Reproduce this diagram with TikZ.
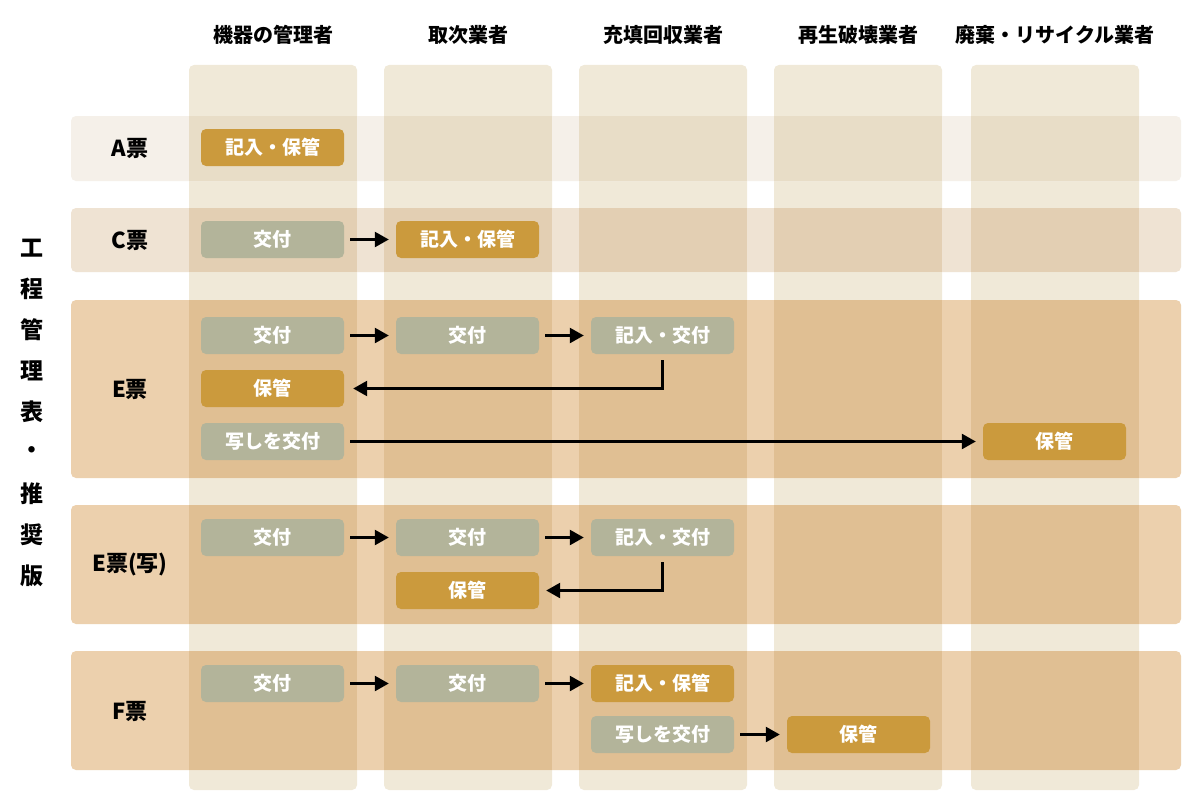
\documentclass[tikz,border=0pt]{standalone}
\usepackage{fontspec}
\setmainfont{Noto Sans CJK JP}
\usetikzlibrary{arrows.meta}
\definecolor{colbg}{HTML}{F0E9D8}
\definecolor{rowA}{HTML}{F5F0E9}
\definecolor{ovA}{HTML}{E8DDC7}
\definecolor{rowC}{HTML}{EFE3D3}
\definecolor{ovC}{HTML}{E3CFB3}
\definecolor{rowE}{HTML}{ECD0AD}
\definecolor{ovE}{HTML}{E0BF93}
\definecolor{gold}{HTML}{CB9A3D}
\definecolor{sage}{HTML}{B3B49A}
\begin{document}
\begin{tikzpicture}[x=1pt,y=-1pt,
  box/.style={rounded corners=5pt, minimum width=143pt, minimum height=37pt, inner sep=0pt, text=white, font=\bfseries\fontsize{19}{19}\selectfont},
  gbox/.style={box, fill=gold},
  sbox/.style={box, fill=sage},
  arr/.style={-{Triangle[length=14pt,width=15pt]}, line width=2.5pt, shorten <=6pt, shorten >=7pt},
  hdr/.style={font=\bfseries\fontsize{20}{20}\selectfont, text=black},
  rlab/.style={font=\bfseries\fontsize{22}{22}\selectfont, text=black},
  vlab/.style={font=\bfseries\fontsize{23}{23}\selectfont, text=black, inner sep=0pt}]
\useasboundingbox (0,0) rectangle (1200,800);
\fill[white] (0,0) rectangle (1200,800);
% columns
\foreach \xa/\xb in {189/357,384/552,579/747,774/942,971/1139}
  \fill[colbg, rounded corners=5pt] (\xa,65) rectangle (\xb,790);
% rows
\foreach \ya/\yb/\rc/\oc in {116/181/rowA/ovA,208/272/rowC/ovC,300/478/rowE/ovE,505/624/rowE/ovE,651/770/rowE/ovE}{
  \fill[\rc, rounded corners=5pt] (71,\ya) rectangle (1181,\yb);
  \foreach \xa/\xb in {189/357,384/552,579/747,774/942,971/1139}
    \fill[\oc] (\xa,\ya) rectangle (\xb,\yb);
}
% headers
\node[hdr] (h1) at (273,35) {機器の管理者};
\node[hdr] (h2) at (468,35) {取次業者};
\node[hdr] (h3) at (663,35) {充填回収業者};
\node[hdr] (h4) at (858,35) {再生破壊業者};
\node[hdr] (h5) at (1055,35) {廃棄・リサイクル業者};
% row labels
\node[rlab] (lA) at (130,148) {A票};
\node[rlab] (lC) at (130,240) {C票};
\node[rlab] (lE) at (130,389) {E票};
\node[rlab] (lW) at (130,564) {E票(写)};
\node[rlab] (lF) at (130,711) {F票};
% vertical label
\foreach \c [count=\i from 0] in {工,程,管,理,表,・,推,奨,版}
  \node[vlab] (v\i) at (32,248+41*\i) {\c};
% A
\node[gbox] (a1) at (272.5,147.5) {記入・保管};
% C
\node[sbox] (c1) at (272.5,239.5) {交付};
\node[gbox] (c2) at (467.5,239.5) {記入・保管};
% E
\node[sbox] (e1) at (272.5,335.5) {交付};
\node[sbox] (e2) at (467.5,335.5) {交付};
\node[sbox] (e3) at (662.5,335.5) {記入・交付};
\node[gbox] (e4) at (272.5,388.5) {保管};
\node[sbox] (e5) at (272.5,441.5) {写しを交付};
\node[gbox] (e6) at (1054.5,441.5) {保管};
% E(copy)
\node[sbox] (w1) at (272.5,537.5) {交付};
\node[sbox] (w2) at (467.5,537.5) {交付};
\node[sbox] (w3) at (662.5,537.5) {記入・交付};
\node[gbox] (w4) at (467.5,590.5) {保管};
% F
\node[sbox] (f1) at (272.5,683.5) {交付};
\node[sbox] (f2) at (467.5,683.5) {交付};
\node[gbox] (f3) at (662.5,683.5) {記入・保管};
\node[sbox] (f4) at (662.5,734.5) {写しを交付};
\node[gbox] (f5) at (858.5,734.5) {保管};
% arrows
\draw[arr] (c1) -- (c2);
\draw[arr] (e1) -- (e2);
\draw[arr] (e2) -- (e3);
\draw[arr, shorten >=9pt] (e3.south) |- (e4.east);
\draw[arr] (e5) -- (e6);
\draw[arr] (w1) -- (w2);
\draw[arr] (w2) -- (w3);
\draw[arr] (w3.south) |- (w4.east);
\draw[arr] (f1) -- (f2);
\draw[arr] (f2) -- (f3);
\draw[arr] (f4) -- (f5);
\end{tikzpicture}
\end{document}
